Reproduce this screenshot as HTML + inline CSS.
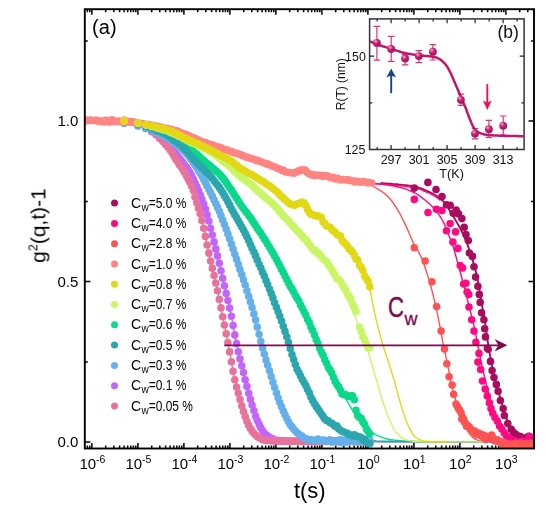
<!DOCTYPE html>
<html><head><meta charset="utf-8"><title>g2(q,t)-1 vs t</title>
<style>html,body{margin:0;padding:0;background:#fff}svg{display:block}text{font-family:"Liberation Sans",sans-serif}</style></head>
<body>
<svg width="545" height="522" viewBox="0 0 545 522" font-family="'Liberation Sans', sans-serif" fill="#000">
<defs><clipPath id="cp"><rect x="84.8" y="9.2" width="449.2" height="439.3"/></clipPath><radialGradient id="sph" cx="0.36" cy="0.3" r="0.72"><stop offset="0" stop-color="#f8cfe0"/><stop offset="0.16" stop-color="#e07aa8"/><stop offset="0.38" stop-color="#c82a78"/><stop offset="0.7" stop-color="#bb1668"/><stop offset="1" stop-color="#a20e5a"/></radialGradient></defs>
<rect width="545" height="522" fill="#fff"/>
<path d="M87.4 448.5v-3M87.4 9.2v3M89.8 448.5v-3M89.8 9.2v3M91.9 448.5v-5.6M91.9 9.2v5.6M105.7 448.5v-3M105.7 9.2v3M113.8 448.5v-3M113.8 9.2v3M119.6 448.5v-3M119.6 9.2v3M124.1 448.5v-3M124.1 9.2v3M127.7 448.5v-3M127.7 9.2v3M130.8 448.5v-3M130.8 9.2v3M133.4 448.5v-3M133.4 9.2v3M135.8 448.5v-3M135.8 9.2v3M137.9 448.5v-5.6M137.9 9.2v5.6M151.7 448.5v-3M151.7 9.2v3M159.8 448.5v-3M159.8 9.2v3M165.6 448.5v-3M165.6 9.2v3M170.1 448.5v-3M170.1 9.2v3M173.7 448.5v-3M173.7 9.2v3M176.8 448.5v-3M176.8 9.2v3M179.4 448.5v-3M179.4 9.2v3M181.8 448.5v-3M181.8 9.2v3M183.9 448.5v-5.6M183.9 9.2v5.6M197.7 448.5v-3M197.7 9.2v3M205.8 448.5v-3M205.8 9.2v3M211.6 448.5v-3M211.6 9.2v3M216.1 448.5v-3M216.1 9.2v3M219.7 448.5v-3M219.7 9.2v3M222.8 448.5v-3M222.8 9.2v3M225.4 448.5v-3M225.4 9.2v3M227.8 448.5v-3M227.8 9.2v3M229.9 448.5v-5.6M229.9 9.2v5.6M243.7 448.5v-3M243.7 9.2v3M251.8 448.5v-3M251.8 9.2v3M257.6 448.5v-3M257.6 9.2v3M262.1 448.5v-3M262.1 9.2v3M265.7 448.5v-3M265.7 9.2v3M268.8 448.5v-3M268.8 9.2v3M271.4 448.5v-3M271.4 9.2v3M273.8 448.5v-3M273.8 9.2v3M275.9 448.5v-5.6M275.9 9.2v5.6M289.7 448.5v-3M289.7 9.2v3M297.8 448.5v-3M297.8 9.2v3M303.6 448.5v-3M303.6 9.2v3M308.1 448.5v-3M308.1 9.2v3M311.7 448.5v-3M311.7 9.2v3M314.8 448.5v-3M314.8 9.2v3M317.4 448.5v-3M317.4 9.2v3M319.8 448.5v-3M319.8 9.2v3M321.9 448.5v-5.6M321.9 9.2v5.6M335.7 448.5v-3M335.7 9.2v3M343.8 448.5v-3M343.8 9.2v3M349.6 448.5v-3M349.6 9.2v3M354.1 448.5v-3M354.1 9.2v3M357.7 448.5v-3M357.7 9.2v3M360.8 448.5v-3M360.8 9.2v3M363.4 448.5v-3M363.4 9.2v3M365.8 448.5v-3M365.8 9.2v3M367.9 448.5v-5.6M367.9 9.2v5.6M381.7 448.5v-3M381.7 9.2v3M389.8 448.5v-3M389.8 9.2v3M395.6 448.5v-3M395.6 9.2v3M400.1 448.5v-3M400.1 9.2v3M403.7 448.5v-3M403.7 9.2v3M406.8 448.5v-3M406.8 9.2v3M409.4 448.5v-3M409.4 9.2v3M411.8 448.5v-3M411.8 9.2v3M413.9 448.5v-5.6M413.9 9.2v5.6M427.7 448.5v-3M427.7 9.2v3M435.8 448.5v-3M435.8 9.2v3M441.6 448.5v-3M441.6 9.2v3M446.1 448.5v-3M446.1 9.2v3M449.7 448.5v-3M449.7 9.2v3M452.8 448.5v-3M452.8 9.2v3M455.4 448.5v-3M455.4 9.2v3M457.8 448.5v-3M457.8 9.2v3M459.9 448.5v-5.6M459.9 9.2v5.6M473.7 448.5v-3M473.7 9.2v3M481.8 448.5v-3M481.8 9.2v3M487.6 448.5v-3M487.6 9.2v3M492.1 448.5v-3M492.1 9.2v3M495.7 448.5v-3M495.7 9.2v3M498.8 448.5v-3M498.8 9.2v3M501.4 448.5v-3M501.4 9.2v3M503.8 448.5v-3M503.8 9.2v3M505.9 448.5v-5.6M505.9 9.2v5.6M519.7 448.5v-3M519.7 9.2v3M527.8 448.5v-3M527.8 9.2v3M533.6 448.5v-3M533.6 9.2v3M84.8 442.1h5.6M534.1 442.1h-5.6M84.8 361.9h3M534.1 361.9h-3M84.8 281.6h5.6M534.1 281.6h-5.6M84.8 201.4h3M534.1 201.4h-3M84.8 121.1h5.6M534.1 121.1h-5.6M84.8 40.9h3M534.1 40.9h-3" stroke="#000" stroke-width="1.5" fill="none"/>
<g clip-path="url(#cp)">
<path d="M380.5 183 382 183.1 383.5 183.3 385 183.4 386.5 183.5 388 183.6 389.5 183.7 391 183.8 392.5 184 394 184.1 395.5 184.2 397 184.3 398.5 184.5 400 184.6 401.5 184.8 403 184.9 404.5 185.1 406 185.2 407.5 185.4 409 185.6 410.5 185.8 412 186.1 413.5 186.3 415 186.6 416.5 186.9 418 187.4 419.5 187.9 421 188.4 422.5 189 424 189.6 425.5 190.3 427 191 428.5 191.6 430 192.3 431.5 193 433 193.8 434.5 194.7 436 195.6 437.5 196.6 439 197.7 440.5 198.8 442 200.1 443.5 201.6 445 203.2 446.5 205.3 448 207.7 449.5 210.2 451 212.6 452.5 215 454 217.5 455.5 220 457 222.6 458.5 225.3 460 228 461.5 230.9 463 234 464.5 237.3 466 240.9 467.5 244.7 469 248.8 470.5 253.3 472 258 473.5 262.9 475 268.1 476.5 274.2 478 281.7 479.5 290 481 299 482.5 307.8 484 316.1 485.5 325.4 487 336.5 488.5 346.4 490 355.3 491.5 363.3 493 370.6 494.5 377.1 496 382.8 497.5 388.2 499 393.6 500.5 398.9 502 404 503.5 409.1 505 414 506.5 418.4 508 422.5 509.5 426 511 428.8 512.5 431.3 514 433.4 515.5 435 517 436.4 518.5 437.6 520 438.5 521.5 439.3 523 439.9 524.5 440.5 526 440.8 527.5 441 529 441.2 530.5 441.4 532 441.5 533.5 441.6" stroke="#a80c5e" stroke-width="1.9" fill="none" stroke-linejoin="round"/>
<path d="M373 183.5 374.5 183.6 376 183.7 377.5 183.9 379 184 380.5 184.2 382 184.4 383.5 184.5 385 184.7 386.5 184.9 388 185.1 389.5 185.3 391 185.6 392.5 185.8 394 186.1 395.5 186.4 397 186.7 398.5 187 400 187.4 401.5 187.8 403 188.2 404.5 188.7 406 189.2 407.5 189.8 409 190.4 410.5 191 412 191.6 413.5 192.3 415 193 416.5 193.8 418 194.7 419.5 195.8 421 196.9 422.5 198.1 424 199.2 425.5 200.4 427 201.7 428.5 202.9 430 204.3 431.5 205.7 433 207.3 434.5 208.9 436 210.7 437.5 212.7 439 214.8 440.5 217 442 219.5 443.5 222.4 445 225.8 446.5 229.6 448 233.4 449.5 237 451 240.6 452.5 244.7 454 249.5 455.5 254.8 457 260.2 458.5 265.6 460 271.2 461.5 276.8 463 282.5 464.5 288.3 466 294.1 467.5 300 469 306 470.5 311.8 472 317.6 473.5 323.6 475 330.2 476.5 337.9 478 346.3 479.5 354 481 361.1 482.5 368 484 374.6 485.5 381 487 386.9 488.5 392.6 490 398 491.5 403.2 493 408 494.5 412.4 496 416.3 497.5 419.8 499 423.3 500.5 426.7 502 429.5 503.5 431.8 505 433.8 506.5 435.5 508 436.9 509.5 438.1 511 439.1 512.5 439.7 514 440.2 515.5 440.6 517 440.9 518.5 441.1 520 441.3 521.5 441.4 523 441.5 524.5 441.6 526 441.6 527.5 441.7 529 441.7 530.5 441.8 532 441.8 533.5 441.8" stroke="#ff0a82" stroke-width="1.4" fill="none" stroke-linejoin="round"/><path d="M373 183.4 374.5 183.5 376 183.7 377.5 183.8 379 183.9 380.5 184.1 382 184.2 383.5 184.3 385 184.5 386.5 184.6 388 184.7 389.5 184.8 391 185 392.5 185.1 394 185.2 395.5 185.3 397 185.5 398.5 185.6 400 185.8 401.5 186 403 186.1 404.5 186.3 406 186.5 407.5 186.7 409 186.9 410.5 187.1 412 187.3 413.5 187.6 415 187.9 416.5 188.3 418 188.7 419.5 189.2 421 189.7 422.5 190.3 424 191 425.5 191.6 427 192.3 428.5 192.9 430 193.6 431.5 194.3 433 195.1 434.5 196 436 196.9 437.5 198 439 199.1 440.5 200.4" stroke="#ff0a82" stroke-width="1.4" fill="none" stroke-linejoin="round"/>
<path d="M373 186.3 374.5 187.1 376 188 377.5 188.9 379 189.8 380.5 190.7 382 191.7 383.5 192.8 385 193.9 386.5 195.2 388 196.6 389.5 198.2 391 200 392.5 202 394 204.2 395.5 206.5 397 208.9 398.5 211.3 400 213.9 401.5 216.7 403 219.7 404.5 222.9 406 226.1 407.5 229.4 409 232.8 410.5 236.4 412 240 413.5 243.5 415 246.6 416.5 249 418 251.2 419.5 253.6 421 256.6 422.5 260.2 424 264.2 425.5 268.7 427 273.4 428.5 278.3 430 283.3 431.5 288.8 433 294.7 434.5 300.9 436 307.4 437.5 314.2 439 321.6 440.5 329.5 442 337.5 443.5 345.1 445 352.4 446.5 359.6 448 366.8 449.5 374.2 451 381.4 452.5 388.1 454 394 455.5 399.5 457 404.7 458.5 409.7 460 414.7 461.5 419.2 463 422.6 464.5 425.3 466 427.8 467.5 430.3 469 432.8 470.5 435 472 436.6 473.5 437.9 475 439 476.5 439.7 478 440.4 479.5 441 481 441.4 482.5 441.5 484 441.6 485.5 441.7 487 441.8 488.5 441.9 490 442 491.5 442 493 442.1 494.5 442.1 496 442.1 497.5 442.2 499 442.2 500.5 442.2 502 442.2 503.5 442.2 505 442.3 506.5 442.3 508 442.3 509.5 442.3 511 442.3 512.5 442.3 514 442.3 515.5 442.3 517 442.3 518.5 442.4 520 442.4 521.5 442.4 523 442.4 524.5 442.4 526 442.4 527.5 442.4 529 442.4 530.5 442.4 532 442.4 533.5 442.4" stroke="#ff5252" stroke-width="1.4" fill="none" stroke-linejoin="round"/>
<path d="M124.2 122.6 125.7 122.7 127.2 122.9 128.7 123.2 130.2 123.5 131.7 123.8 133.2 124.1 134.7 124.5 136.2 124.9 137.7 125.3 139.2 125.7 140.7 126.2 142.2 126.8 143.7 127.4 145.2 128.1 146.7 128.8 148.2 129.6 149.7 130.5 151.2 131.5 152.7 132.5 154.2 133.5 155.7 134.5 157.2 135.5 158.7 136.6 160.2 137.8 161.7 138.9 163.2 140.2 164.7 141.4 166.2 142.8 167.7 144.2 169.2 145.6 170.7 147.2 172.2 148.9 173.7 150.8 175.2 152.8 176.7 154.8 178.2 156.8 179.7 158.6 181.2 160.4 182.7 162.3 184.2 164.2 185.7 166.2 187.2 168.3 188.7 170.4 190.2 172.8 191.7 175.4 193.2 178.6 194.7 182 196.2 185.5 197.7 188.9 199.2 192.3 200.7 196 202.2 199.8 203.7 203.8 205.2 208.4 206.7 213.4 208.2 218.7 209.7 224.6 211.2 230.6 212.7 236.5 214.2 242.5 215.7 248.5 217.2 254.6 218.7 261 220.2 267.4 221.7 274 223.2 280.6 224.7 287.1 226.2 293.4 227.7 299.6 229.2 306.1 230.7 313 232.2 320.7 233.7 328.9 235.2 337 236.7 344.3 238.2 351.2 239.7 357.6 241.2 363.6 242.7 369.4 244.2 375.4 245.7 381.6 247.2 387.5 248.7 393.2 250.2 398.5 251.7 403.7 253.2 408.6 254.7 413.3 256.2 417.7 257.7 421.4 259.2 424.7 260.7 427.6 262.2 430.1 263.7 432.1 265.2 433.9 266.7 435.4 268.2 436.6 269.7 437.7 271.2 438.6 272.7 439.2 274.2 439.7 275.7 440.1 277.2 440.5 278.7 440.7 280.2 440.8 281.7 440.8 283.2 440.9 284.7 440.9 286.2 441 287.7 441 289.2 441.1 290.7 441.1 292.2 441.1 293.7 441.2 295.2 441.2 296.7 441.2 298.2 441.2 299.7 441.2 301.2 441.2 302.7 441.2 304.2 441.2 305.7 441.2 307.2 441.2 308.7 441.2 310.2 441.2 311.7 441.2 313.2 441.2 314.7 441.2 316.2 441.2 317.7 441.2 319.2 441.2 320.7 441.2 322.2 441.2 323.7 441.2 325.2 441.2 326.7 441.2 328.2 441.2 329.7 441.2 331.2 441.2 332.7 441.2 334.2 441.2 335.7 441.2 337.2 441.2 338.7 441.2 340.2 441.2 341.7 441.2 343.2 441.2 344.7 441.2 346.2 441.2 347.7 441.2 349.2 441.2 350.7 441.2 352.2 441.2 353.7 441.2 355.2 441.2 356.7 441.2 358.2 441.2 359.7 441.2 361.2 441.2 362.7 441.2 364.2 441.2 365.7 441.2 367.2 441.2 368.7 441.2 370.2 441.4 371.7 441.6 373.2 441.6 374.7 441.6 376.2 441.6 377.7 441.6 379.2 441.6 380.7 441.6 382.2 441.7 383.7 441.7 385.2 441.7 386.7 441.7 388.2 441.7 389.7 441.7 391.2 441.7 392.7 441.7 394.2 441.7 395.7 441.7 397.2 441.7 398.7 441.7 400.2 441.7 401.7 441.7 403.2 441.7 404.7 441.7 406.2 441.7 407.7 441.8 409.2 441.8 410.7 441.8 412.2 441.8 413.7 441.8 415.2 441.8 416.7 441.8 418.2 441.8 419.7 441.8 421.2 441.8 422.7 441.8 424.2 441.8 425.7 441.8 427.2 441.8 428.7 441.8 430.2 441.8 431.7 441.8 433.2 441.8 434.7 441.8 436.2 441.8 437.7 441.8 439.2 441.8 440.7 441.8 442.2 441.8 443.7 441.8 445.2 441.8 446.7 441.8 448.2 441.8 449.7 441.9 451.2 441.9 452.7 441.9 454.2 441.9 455.7 441.9 457.2 441.9 458.7 441.9 460.2 441.9 461.7 441.9 463.2 441.9 464.7 441.9 466.2 441.9 467.7 441.9 469.2 441.9 470.7 441.9 472.2 441.9 473.7 441.9 475.2 441.9 476.7 441.9 478.2 441.9 479.7 441.9 481.2 441.9 482.7 441.9 484.2 441.9 485.7 441.9 487.2 441.9 488.7 441.9 490.2 441.9 491.7 441.9 493.2 441.9 494.7 441.9 496.2 441.9 497.7 441.9 499.2 441.9 500.7 441.9 502.2 441.9 503.7 441.9 505.2 441.9 506.7 441.9 508.2 441.9 509.7 441.9 511.2 441.9 512.7 441.9 514.2 441.9 515.7 441.9 517.2 441.9 518.7 441.9 520.2 441.9 521.7 441.9 523.2 441.9 524.7 441.9 526.2 441.9 527.7 441.9 529.2 441.9 530.7 441.9 532.2 441.9 533.7 441.9" stroke="#c266fb" stroke-width="1.4" fill="none" stroke-linejoin="round"/>
<path d="M124.2 122.4 125.7 122.6 127.2 122.8 128.7 123 130.2 123.3 131.7 123.6 133.2 123.9 134.7 124.3 136.2 124.7 137.7 125.1 139.2 125.5 140.7 126 142.2 126.5 143.7 127.1 145.2 127.8 146.7 128.5 148.2 129.2 149.7 130 151.2 131 152.7 132 154.2 133.2 155.7 134.4 157.2 135.8 158.7 137.2 160.2 138.7 161.7 140.2 163.2 141.8 164.7 143.5 166.2 145.2 167.7 147.1 169.2 149 170.7 151 172.2 153.1 173.7 155.4 175.2 157.9 176.7 160.4 178.2 162.8 179.7 165.1 181.2 167.3 182.7 169.6 184.2 171.9 185.7 174.5 187.2 177.1 188.7 180 190.2 183.1 191.7 186.4 193.2 190.4 194.7 195.5 196.2 201 197.7 205.8 199.2 210.4 200.7 215.4 202.2 221.5 203.7 228.5 205.2 235.6 206.7 242.9 208.2 250.1 209.7 256.9 211.2 263.4 212.7 269.8 214.2 276.1 215.7 282.5 217.2 289.4 218.7 296.5 220.2 304 221.7 311.5 223.2 319 224.7 326.4 226.2 333.8 227.7 341.6 229.2 349.7 230.7 358 232.2 366.4 233.7 374.5 235.2 381.3 236.7 387.3 238.2 392.9 239.7 398.5 241.2 403.9 242.7 409 244.2 413.6 245.7 418 247.2 421.9 248.7 425.2 250.2 428 251.7 430.5 253.2 432.5 254.7 434.2 256.2 435.7 257.7 436.9 259.2 437.8 260.7 438.7 262.2 439.4 263.7 440 265.2 440.3 266.7 440.5 268.2 440.6 269.7 440.8 271.2 440.9 272.7 441 274.2 441.1 275.7 441.1 277.2 441.2 278.7 441.2 280.2 441.2 281.7 441.2 283.2 441.2 284.7 441.2 286.2 441.2 287.7 441.2 289.2 441.2 290.7 441.2 292.2 441.2 293.7 441.2 295.2 441.2 296.7 441.2 298.2 441.2 299.7 441.2 301.2 441.2 302.7 441.2 304.2 441.2 305.7 441.2 307.2 441.2 308.7 441.2 310.2 441.2 311.7 441.2 313.2 441.2 314.7 441.2 316.2 441.2 317.7 441.2 319.2 441.2 320.7 441.2 322.2 441.2 323.7 441.2 325.2 441.2 326.7 441.2 328.2 441.2 329.7 441.2 331.2 441.2 332.7 441.2 334.2 441.2 335.7 441.2 337.2 441.2 338.7 441.2 340.2 441.2 341.7 441.2 343.2 441.2 344.7 441.2 346.2 441.2 347.7 441.2 349.2 441.2 350.7 441.2 352.2 441.2 353.7 441.2 355.2 441.2 356.7 441.2 358.2 441.2 359.7 441.2 361.2 441.2 362.7 441.2 364.2 441.2 365.7 441.2 367.2 441.2 368.7 441.2 370.2 441.4 371.7 441.6 373.2 441.6 374.7 441.6 376.2 441.6 377.7 441.6 379.2 441.6 380.7 441.6 382.2 441.7 383.7 441.7 385.2 441.7 386.7 441.7 388.2 441.7 389.7 441.7 391.2 441.7 392.7 441.7 394.2 441.7 395.7 441.7 397.2 441.7 398.7 441.7 400.2 441.7 401.7 441.7 403.2 441.7 404.7 441.7 406.2 441.7 407.7 441.8 409.2 441.8 410.7 441.8 412.2 441.8 413.7 441.8 415.2 441.8 416.7 441.8 418.2 441.8 419.7 441.8 421.2 441.8 422.7 441.8 424.2 441.8 425.7 441.8 427.2 441.8 428.7 441.8 430.2 441.8 431.7 441.8 433.2 441.8 434.7 441.8 436.2 441.8 437.7 441.8 439.2 441.8 440.7 441.8 442.2 441.8 443.7 441.8 445.2 441.8 446.7 441.8 448.2 441.8 449.7 441.9 451.2 441.9 452.7 441.9 454.2 441.9 455.7 441.9 457.2 441.9 458.7 441.9 460.2 441.9 461.7 441.9 463.2 441.9 464.7 441.9 466.2 441.9 467.7 441.9 469.2 441.9 470.7 441.9 472.2 441.9 473.7 441.9 475.2 441.9 476.7 441.9 478.2 441.9 479.7 441.9 481.2 441.9 482.7 441.9 484.2 441.9 485.7 441.9 487.2 441.9 488.7 441.9 490.2 441.9 491.7 441.9 493.2 441.9 494.7 441.9 496.2 441.9 497.7 441.9 499.2 441.9 500.7 441.9 502.2 441.9 503.7 441.9 505.2 441.9 506.7 441.9 508.2 441.9 509.7 441.9 511.2 441.9 512.7 441.9 514.2 441.9 515.7 441.9 517.2 441.9 518.7 441.9 520.2 441.9 521.7 441.9 523.2 441.9 524.7 441.9 526.2 441.9 527.7 441.9 529.2 441.9 530.7 441.9 532.2 441.9 533.7 441.9" stroke="#e8729c" stroke-width="1.4" fill="none" stroke-linejoin="round"/>
<path d="M124.2 123.5 125.7 123.7 127.2 123.9 128.7 124.2 130.2 124.5 131.7 124.8 133.2 125.1 134.7 125.4 136.2 125.7 137.7 126.1 139.2 126.5 140.7 126.9 142.2 127.4 143.7 127.9 145.2 128.4 146.7 128.9 148.2 129.4 149.7 129.9 151.2 130.4 152.7 131 154.2 131.6 155.7 132.2 157.2 132.8 158.7 133.5 160.2 134.2 161.7 135 163.2 135.7 164.7 136.5 166.2 137.3 167.7 138.2 169.2 139.1 170.7 140.1 172.2 141.1 173.7 142.1 175.2 143.2 176.7 144.4 178.2 145.6 179.7 146.9 181.2 148.3 182.7 149.7 184.2 151.1 185.7 152.7 187.2 154.3 188.7 156.1 190.2 158.1 191.7 160.1 193.2 162.3 194.7 164.5 196.2 166.8 197.7 169.1 199.2 171.5 200.7 174.1 202.2 176.7 203.7 179.5 205.2 182.3 206.7 185.1 208.2 188 209.7 191 211.2 194 212.7 197 214.2 200.2 215.7 203.4 217.2 206.7 218.7 210.1 220.2 213.7 221.7 217.4 223.2 221.2 224.7 225.2 226.2 229.3 227.7 233.4 229.2 237.6 230.7 242 232.2 246.4 233.7 250.8 235.2 255.3 236.7 259.7 238.2 264 239.7 268.4 241.2 272.8 242.7 277.3 244.2 281.9 245.7 286.5 247.2 291.3 248.7 296.2 250.2 301.2 251.7 306.3 253.2 311.5 254.7 316.9 256.2 322.6 257.7 328.6 259.2 334.8 260.7 340.8 262.2 346.7 263.7 352.3 265.2 357.4 266.7 362.2 268.2 366.8 269.7 371.5 271.2 376.4 272.7 381.3 274.2 386.2 275.7 390.8 277.2 395.2 278.7 399.5 280.2 403.5 281.7 407.3 283.2 410.9 284.7 414.3 286.2 417.4 287.7 420.2 289.2 422.8 290.7 425.2 292.2 427.3 293.7 429.2 295.2 430.9 296.7 432.4 298.2 433.8 299.7 435 301.2 436 302.7 437 304.2 437.9 305.7 438.6 307.2 439.1 308.7 439.6 310.2 440.1 311.7 440.4 313.2 440.6 314.7 440.3 316.2 439.7 317.7 439.2 319.2 439.5 320.7 440.2 322.2 440.6 323.7 440.7 325.2 440.9 326.7 440.9 328.2 441 329.7 441 331.2 441 332.7 441 334.2 440.9 335.7 440.9 337.2 440.8 338.7 440.8 340.2 440.7 341.7 440.6 343.2 440.6 344.7 440.6 346.2 440.6 347.7 440.7 349.2 440.7 350.7 440.8 352.2 440.9 353.7 441 355.2 441.1 356.7 441.1 358.2 441.2 359.7 441.2 361.2 441.2 362.7 441.2 364.2 441.1 365.7 441.1 367.2 441 368.7 441 370.2 441.2 371.7 441.6 373.2 441.6 374.7 441.6 376.2 441.6 377.7 441.6 379.2 441.6 380.7 441.6 382.2 441.7 383.7 441.7 385.2 441.7 386.7 441.7 388.2 441.7 389.7 441.7 391.2 441.7 392.7 441.7 394.2 441.7 395.7 441.7 397.2 441.7 398.7 441.7 400.2 441.7 401.7 441.7 403.2 441.7 404.7 441.7 406.2 441.7 407.7 441.8 409.2 441.8 410.7 441.8 412.2 441.8 413.7 441.8 415.2 441.8 416.7 441.8 418.2 441.8 419.7 441.8 421.2 441.8 422.7 441.8 424.2 441.8 425.7 441.8 427.2 441.8 428.7 441.8 430.2 441.8 431.7 441.8 433.2 441.8 434.7 441.8 436.2 441.8 437.7 441.8 439.2 441.8 440.7 441.8 442.2 441.8 443.7 441.8 445.2 441.8 446.7 441.8 448.2 441.9 449.7 441.9 451.2 441.9 452.7 441.9 454.2 441.9 455.7 441.9 457.2 441.9 458.7 441.9 460.2 441.9 461.7 441.9 463.2 441.9 464.7 441.9 466.2 441.9 467.7 441.9 469.2 441.9 470.7 441.9 472.2 441.9 473.7 441.9 475.2 441.9 476.7 441.9 478.2 441.9 479.7 441.9 481.2 441.9 482.7 441.9 484.2 441.9 485.7 441.9 487.2 441.9 488.7 441.9 490.2 441.9 491.7 441.9 493.2 441.9 494.7 441.9 496.2 441.9 497.7 441.9 499.2 441.9 500.7 441.9 502.2 441.9 503.7 441.9 505.2 441.9 506.7 441.9 508.2 441.9 509.7 441.9 511.2 441.9 512.7 441.9 514.2 441.9 515.7 441.9 517.2 441.9 518.7 441.9 520.2 441.9 521.7 441.9 523.2 441.9 524.7 441.9 526.2 441.9 527.7 441.9 529.2 441.9 530.7 441.9 532.2 441.9 533.7 441.9" stroke="#66b0e9" stroke-width="1.4" fill="none" stroke-linejoin="round"/>
<path d="M124.2 121.4 125.7 121.5 127.2 121.7 128.7 121.9 130.2 122.1 131.7 122.4 133.2 122.6 134.7 122.9 136.2 123.2 137.7 123.5 139.2 123.8 140.7 124.2 142.2 124.6 143.7 125.1 145.2 125.5 146.7 125.9 148.2 126.4 149.7 126.8 151.2 127.2 152.7 127.7 154.2 128.1 155.7 128.6 157.2 129.1 158.7 129.7 160.2 130.2 161.7 130.8 163.2 131.4 164.7 132 166.2 132.6 167.7 133.3 169.2 133.9 170.7 134.6 172.2 135.4 173.7 136.2 175.2 137 176.7 137.8 178.2 138.7 179.7 139.6 181.2 140.6 182.7 141.6 184.2 142.7 185.7 143.8 187.2 145 188.7 146.4 190.2 147.9 191.7 149.4 193.2 150.9 194.7 152.4 196.2 153.8 197.7 155.2 199.2 156.5 200.7 157.8 202.2 159.2 203.7 160.5 205.2 161.8 206.7 163 208.2 164.3 209.7 165.6 211.2 166.8 212.7 168.1 214.2 169.3 215.7 170.5 217.2 171.8 218.7 173.3 220.2 174.9 221.7 176.7 223.2 178.5 224.7 180.4 226.2 182.4 227.7 184.6 229.2 186.8 230.7 189.1 232.2 191.4 233.7 193.8 235.2 196.3 236.7 198.6 238.2 200.9 239.7 203.1 241.2 205.3 242.7 207.4 244.2 209.4 245.7 211.4 247.2 213.4 248.7 215.5 250.2 217.6 251.7 219.7 253.2 221.9 254.7 224.1 256.2 226.3 257.7 228.5 259.2 230.8 260.7 233.1 262.2 235.4 263.7 237.8 265.2 240.1 266.7 242.6 268.2 245 269.7 247.5 271.2 250 272.7 252.6 274.2 255.2 275.7 258 277.2 260.8 278.7 263.6 280.2 266.5 281.7 269.4 283.2 272.4 284.7 275.4 286.2 278.3 287.7 281.2 289.2 284.1 290.7 286.9 292.2 289.7 293.7 292.4 295.2 295 296.7 297.7 298.2 300.3 299.7 303.1 301.2 305.9 302.7 308.9 304.2 312 305.7 315.2 307.2 318.4 308.7 321.7 310.2 324.8 311.7 328 313.2 331.2 314.7 334.4 316.2 337.6 317.7 340.8 319.2 344 320.7 347.3 322.2 350.5 323.7 353.8 325.2 357 326.7 360.2 328.2 363.4 329.7 366.6 331.2 369.8 332.7 373 334.2 376.1 335.7 379.2 337.2 382.2 338.7 385.2 340.2 388.1 341.7 391.1 343.2 393.9 344.7 396.7 346.2 399.4 347.7 402.1 349.2 404.7 350.7 407.3 352.2 409.8 353.7 412.1 355.2 414.4 356.7 416.5 358.2 418.6 359.7 420.6 361.2 422.6 362.7 424.4 364.2 426.2 365.7 427.7 367.2 429.1 368.7 430.2 370.2 431.3 371.7 432.3 373.2 433.2 374.7 434.1 376.2 434.9 377.7 435.6 379.2 436.2 380.7 436.8 382.2 437.3 383.7 437.9 385.2 438.3 386.7 438.8 388.2 439.2 389.7 439.5 391.2 439.7 392.7 439.9 394.2 440.1 395.7 440.3 397.2 440.5 398.7 440.7 400.2 440.8 401.7 440.9 403.2 441 404.7 441.1 406.2 441.2 407.7 441.2 409.2 441.3 410.7 441.3 412.2 441.3 413.7 441.4 415.2 441.4 416.7 441.4 418.2 441.5 419.7 441.5 421.2 441.5 422.7 441.6 424.2 441.6 425.7 441.6 427.2 441.6 428.7 441.6 430.2 441.7 431.7 441.7 433.2 441.7 434.7 441.7 436.2 441.7 437.7 441.7 439.2 441.7" stroke="#0cd88c" stroke-width="1.4" fill="none" stroke-linejoin="round"/>
<path d="M124.2 121.8 125.7 122 127.2 122.1 128.7 122.4 130.2 122.6 131.7 122.9 133.2 123.2 134.7 123.5 136.2 123.8 137.7 124.1 139.2 124.5 140.7 124.9 142.2 125.3 143.7 125.8 145.2 126.3 146.7 126.8 148.2 127.3 149.7 127.8 151.2 128.4 152.7 128.9 154.2 129.5 155.7 130.1 157.2 130.6 158.7 131.2 160.2 131.8 161.7 132.4 163.2 133.1 164.7 133.9 166.2 134.8 167.7 135.7 169.2 136.7 170.7 137.7 172.2 138.7 173.7 139.7 175.2 140.8 176.7 141.9 178.2 143 179.7 144.2 181.2 145.6 182.7 147 184.2 148.5 185.7 150.1 187.2 151.7 188.7 153.4 190.2 155.2 191.7 157 193.2 158.7 194.7 160.4 196.2 162 197.7 163.4 199.2 164.9 200.7 166.3 202.2 167.8 203.7 169.3 205.2 170.8 206.7 172.4 208.2 173.9 209.7 175.6 211.2 177.3 212.7 179.1 214.2 181 215.7 182.9 217.2 184.8 218.7 186.7 220.2 188.8 221.7 191 223.2 193.4 224.7 195.9 226.2 198.7 227.7 201.5 229.2 204.3 230.7 207.2 232.2 210 233.7 212.7 235.2 215.4 236.7 218 238.2 220.6 239.7 223.2 241.2 225.9 242.7 228.6 244.2 231.4 245.7 234.4 247.2 237.5 248.7 240.7 250.2 243.9 251.7 247.3 253.2 250.6 254.7 254 256.2 257.4 257.7 260.8 259.2 264.3 260.7 267.8 262.2 271.3 263.7 274.9 265.2 278.5 266.7 282.2 268.2 286 269.7 289.8 271.2 293.6 272.7 297.5 274.2 301.4 275.7 305.3 277.2 309.3 278.7 313.3 280.2 317.4 281.7 321.7 283.2 326 284.7 330.4 286.2 335 287.7 339.7 289.2 344.9 290.7 350.4 292.2 355.2 293.7 359.6 295.2 363.7 296.7 367.5 298.2 371.1 299.7 374.4 301.2 377.4 302.7 380.2 304.2 382.9 305.7 385.7 307.2 388.7 308.7 391.9 310.2 395.2 311.7 398.4 313.2 401.3 314.7 404 316.2 406.5 317.7 408.9 319.2 411.1 320.7 413.3 322.2 415.5 323.7 417.5 325.2 419.2 326.7 420.6 328.2 421.6 329.7 422.5 331.2 423.5 332.7 424.6 334.2 425.7 335.7 426.8 337.2 427.8 338.7 428.9 340.2 429.9 341.7 431 343.2 432 344.7 432.8 346.2 433.6 347.7 434.3 349.2 435 350.7 435.4 352.2 435.7 353.7 435.9 355.2 436 356.7 436.1 358.2 436.4 359.7 437 361.2 438 362.7 438.6 364.2 439.1 365.7 439.4 367.2 439.7 368.7 440 370.2 440.2 371.7 440.4 373.2 440.6 374.7 440.8 376.2 441 377.7 441.1 379.2 441.2 380.7 441.2 382.2 441.2 383.7 441.2 385.2 441.3 386.7 441.3 388.2 441.3 389.7 441.3 391.2 441.3 392.7 441.3 394.2 441.4 395.7 441.4 397.2 441.4 398.7 441.4 400.2 441.4 401.7 441.4 403.2 441.4 404.7 441.5 406.2 441.5 407.7 441.5 409.2 441.5 410.7 441.5 412.2 441.5 413.7 441.5 415.2 441.5 416.7 441.6 418.2 441.6 419.7 441.6 421.2 441.6 422.7 441.6 424.2 441.6 425.7 441.6 427.2 441.6 428.7 441.6 430.2 441.6 431.7 441.7 433.2 441.7 434.7 441.7 436.2 441.7 437.7 441.7 439.2 441.7 440.7 441.7 442.2 441.7 443.7 441.7 445.2 441.7 446.7 441.7 448.2 441.7 449.7 441.7 451.2 441.8 452.7 441.8 454.2 441.8 455.7 441.8 457.2 441.8 458.7 441.8 460.2 441.8 461.7 441.8 463.2 441.8 464.7 441.8 466.2 441.8 467.7 441.8 469.2 441.8 470.7 441.8 472.2 441.8 473.7 441.8 475.2 441.8 476.7 441.8 478.2 441.8 479.7 441.8 481.2 441.9 482.7 441.9 484.2 441.9 485.7 441.9 487.2 441.9 488.7 441.9 490.2 441.9 491.7 441.9 493.2 441.9 494.7 441.9 496.2 441.9 497.7 441.9 499.2 441.9 500.7 441.9 502.2 441.9 503.7 441.9 505.2 441.9 506.7 441.9 508.2 441.9 509.7 441.9 511.2 441.9 512.7 441.9 514.2 441.9 515.7 441.9 517.2 441.9 518.7 441.9 520.2 441.9 521.7 441.9 523.2 441.9 524.7 441.9 526.2 441.9 527.7 441.9 529.2 441.9 530.7 441.9 532.2 441.9 533.7 441.9" stroke="#2ba6ad" stroke-width="1.4" fill="none" stroke-linejoin="round"/>
<path d="M124.2 121 125.7 121.2 127.2 121.4 128.7 121.6 130.2 121.8 131.7 122 133.2 122.3 134.7 122.6 136.2 122.8 137.7 123.1 139.2 123.4 140.7 123.8 142.2 124.2 143.7 124.6 145.2 124.9 146.7 125.3 148.2 125.7 149.7 126.1 151.2 126.4 152.7 126.8 154.2 127.2 155.7 127.6 157.2 128 158.7 128.4 160.2 128.8 161.7 129.3 163.2 129.7 164.7 130.2 166.2 130.7 167.7 131.2 169.2 131.7 170.7 132.2 172.2 132.8 173.7 133.5 175.2 134.2 176.7 134.9 178.2 135.6 179.7 136.4 181.2 137.2 182.7 137.9 184.2 138.7 185.7 139.5 187.2 140.2 188.7 140.9 190.2 141.7 191.7 142.4 193.2 143.2 194.7 143.9 196.2 144.6 197.7 145.4 199.2 146.1 200.7 146.9 202.2 147.6 203.7 148.4 205.2 149.1 206.7 149.8 208.2 150.6 209.7 151.4 211.2 152.3 212.7 153.3 214.2 154.3 215.7 155.4 217.2 156.5 218.7 157.7 220.2 158.8 221.7 160 223.2 161.2 224.7 162.3 226.2 163.6 227.7 164.8 229.2 166.1 230.7 167.4 232.2 168.9 233.7 170.3 235.2 171.9 236.7 173.4 238.2 174.8 239.7 176.1 241.2 177.4 242.7 178.5 244.2 179.6 245.7 180.7 247.2 181.8 248.7 182.8 250.2 184 251.7 185.2 253.2 186.4 254.7 187.8 256.2 189.1 257.7 190.5 259.2 191.9 260.7 193.3 262.2 194.7 263.7 196 265.2 197.3 266.7 198.6 268.2 199.9 269.7 201.2 271.2 202.5 272.7 203.9 274.2 205.3 275.7 206.9 277.2 208.5 278.7 210.3 280.2 212.1 281.7 213.9 283.2 215.6 284.7 217.3 286.2 218.9 287.7 220.5 289.2 222.1 290.7 223.6 292.2 225.2 293.7 226.8 295.2 228.4 296.7 229.9 298.2 231.5 299.7 233.2 301.2 234.8 302.7 236.5 304.2 238.3 305.7 240 307.2 241.9 308.7 243.8 310.2 245.8 311.7 247.6 313.2 249.2 314.7 250.4 316.2 251.6 317.7 252.8 319.2 254.2 320.7 255.8 322.2 257.6 323.7 259.4 325.2 261.2 326.7 263.1 328.2 265 329.7 267 331.2 269.1 332.7 271.3 334.2 273.7 335.7 276.3 337.2 278.9 338.7 281.6 340.2 284.4 341.7 287.3 343.2 290.3 344.7 293.4 346.2 296.6 347.7 299.8 349.2 303.1 350.7 306.5 352.2 310 353.7 313.5 355.2 317.1 356.7 320.7 358.2 324.4 359.7 328.2 361.2 332 362.7 335.8 364.2 340 365.7 344.4 367.2 349 368.7 353.7 370.2 358.6 371.7 363.7 373.2 368.9 374.7 374.1 376.2 379.3 377.7 384.4 379.2 389.6 380.7 394.7 382.2 399.7 383.7 404.3 385.2 408.7 386.7 413 388.2 417 389.7 420.7 391.2 423.8 392.7 426.8 394.2 429.5 395.7 431.9 397.2 433.7 398.7 435.1 400.2 436.4 401.7 437.6 403.2 438.6 404.7 439.3 406.2 439.9 407.7 440.3 409.2 440.6 410.7 440.9 412.2 441.1 413.7 441.3 415.2 441.5 416.7 441.6 418.2 441.6 419.7 441.6 421.2 441.6 422.7 441.7 424.2 441.7 425.7 441.7 427.2 441.7 428.7 441.7 430.2 441.8 431.7 441.8 433.2 441.8 434.7 441.8 436.2 441.8 437.7 441.8 439.2 441.8 440.7 441.8 442.2 441.9 443.7 441.9 445.2 441.9 446.7 441.9 448.2 441.9 449.7 441.9 451.2 441.9 452.7 441.9 454.2 441.9 455.7 441.9 457.2 441.9 458.7 441.9 460.2 441.9 461.7 441.9 463.2 441.9 464.7 441.9 466.2 441.9 467.7 441.9 469.2 441.9 470.7 441.9 472.2 441.9 473.7 441.9 475.2 441.9 476.7 441.9 478.2 441.9 479.7 441.9 481.2 441.9 482.7 441.9 484.2 441.9 485.7 441.9 487.2 441.9 488.7 441.9" stroke="#c9f664" stroke-width="1.4" fill="none" stroke-linejoin="round"/>
<path d="M155 126.6 156.5 126.9 158 127.2 159.5 127.6 161 128 162.5 128.4 164 128.8 165.5 129.3 167 129.8 168.5 130.3 170 130.8 171.5 131.3 173 132 174.5 132.6 176 133.3 177.5 134.1 179 134.9 180.5 135.7 182 136.5 183.5 137.3 185 138 186.5 138.7 188 139.4 189.5 140.1 191 140.8 192.5 141.5 194 142.2 195.5 142.9 197 143.6 198.5 144.3 200 145 201.5 145.7 203 146.4 204.5 147.1 206 147.8 207.5 148.6 209 149.3 210.5 150.1 212 150.8 213.5 151.6 215 152.4 216.5 153.3 218 154.1 219.5 154.9 221 155.7 222.5 156.5 224 157.2 225.5 157.9 227 158.6 228.5 159.3 230 160.2 231.5 161.2 233 162.4 234.5 163.6 236 164.9 237.5 166.1 239 167.3 240.5 168.3 242 169.3 243.5 170.2 245 171 246.5 171.9 248 172.7 249.5 173.5 251 174.4 252.5 175.3 254 176.2 255.5 177 257 177.9 258.5 178.8 260 179.7 261.5 180.6 263 181.6 264.5 182.6 266 183.6 267.5 184.6 269 185.6 270.5 186.7 272 187.8 273.5 188.9 275 190.1 276.5 191.4 278 192.8 279.5 194.3 281 195.8 282.5 197.3 284 198.8 285.5 200.2 287 201.5 288.5 202.7 290 203.8 291.5 204.7 293 205.2 294.5 205.1 296 204.8 297.5 204.2 299 203.4 300.5 202.9 302 202.5 303.5 202.4 305 204.6 306.5 207.2 308 209.7 309.5 211.7 311 213.3 312.5 214.5 314 215.3 315.5 215.8 317 216 318.5 215.6 320 216.3 321.5 218.4 323 221.3 324.5 223.1 326 224.6 327.5 225.9 329 227.1 330.5 228.2 332 229.4 333.5 230.7 335 232.1 336.5 233.6 338 235.2 339.5 236.8 341 238.4 342.5 240.1 344 241.9 345.5 243.7 347 245.5 348.5 247.4 350 249.4 351.5 251.4 353 253.5 354.5 255.7 356 258.1 357.5 260.5 359 263.3 360.5 266.4 362 269.6 363.5 272.7 365 275.5 366.5 278.4 368 282 369.5 287 371 294.7 372.5 302.5 374 309.9 375.5 316.9 377 323.2 378.5 329.1 380 334.8 381.5 340.3 383 345.5 384.5 350.2 386 354.5 387.5 358.9 389 363.5 390.5 368.3 392 373.2 393.5 378.2 395 383.3 396.5 388.7 398 394.4 399.5 400 401 405.4 402.5 410.1 404 414.6 405.5 418.9 407 422.8 408.5 426.2 410 429.1 411.5 431.9 413 434.3 414.5 436.2 416 437.5 417.5 438.5 419 439.3 420.5 440 422 440.6 423.5 441 425 441.2 426.5 441.3 428 441.4 429.5 441.4 431 441.5 432.5 441.6 434 441.6 435.5 441.7 437 441.7 438.5 441.8 440 441.8 441.5 441.8 443 441.9 444.5 441.9 446 441.9 447.5 441.9 449 441.9" stroke="#e2d814" stroke-width="1.4" fill="none" stroke-linejoin="round"/>
<path d="M414.3 188.1h0M427.9 182.4h0M436 189.5h0M442 196.5h0M446.5 204.8h0M450.2 205.2h0M453.2 213.2h0M456.1 210.1h0M458.5 213.9h0M461.9 218.6h0M464.2 227.3h0M466 234.6h0M468.3 240.5h0M469.4 253h0M472.4 256.4h0M474 266.8h0M475.6 277.1h0M477.9 286.3h0M479.3 294.4h0M480.2 302.4h0M481.6 312.8h0M483.9 319.7h0M484.7 328.8h0M485.5 336.9h0M487.4 348.4h0M488.2 349.3h0M490.5 361.4h0M492.1 370.6h0M494 377.5h0M496.3 384.4h0M498.1 391.3h0M500.4 400.5h0M503.2 408.6h0M504.3 415.5h0M507.8 423.5h0M511.2 429.3h0M513.5 432.5h0M515.8 434.2h0M518 436h0M520.4 436.5h0M523 439h0M526.1 437.5h0M528.8 436.2h0M531.9 440.6h0M534 439.5h0" stroke="#a80c5e" stroke-width="7.6" stroke-linecap="round" fill="none"/>
<path d="M414.3 199.4h0M428 212.5h0M436.4 209.2h0M442 210.5h0M450.1 223.5h0M446.5 230.7h0M455.6 231.9h0M452.9 242h0M457.9 248.4h0M460.2 265.6h0M462.5 267.9h0M463.7 284h0M466 283.3h0M467.1 292.1h0M468.7 294.4h0M469 307h0M471.7 319.7h0M474 331.1h0M475.9 342.3h0M479 353.4h0M477.9 362.1h0M480.6 369.5h0M482.5 381h0M485.2 389h0M487.3 396h0M489.4 402.8h0M491 408.5h0M492.8 413.2h0M495 417.5h0M497.4 421.2h0M499.6 426h0M502 429.3h0M504.3 433h0M506.6 436.1h0M509.5 438.4h0M512.4 439.8h0M516 441h0M520 441.6h0M524 441.2h0M529.6 436.6h0M533 441h0" stroke="#ff0a82" stroke-width="7.6" stroke-linecap="round" fill="none"/>
<path d="M414.3 247.7h0M425.1 261h0M432 281.7h0M436.6 306.6h0M441.1 331.1h0M444.5 349h0M446.8 363.7h0M449.1 376.8h0M452.1 385.1h0M453.7 394.3h0M456 404h0M458 407.6h0M459.5 409.7h0M461.8 418.9h0M464 421.6h0M466.4 424.7h0M468.6 427h0M471 429.3h0M473.4 431.4h0M475.6 433.9h0M478.5 434.6h0M481.3 436.1h0M483.6 438h0M485.9 439.6h0M488.8 437h0M491.7 435h0M493.2 438.4h0M494.5 440.7h0M497.5 441.2h0M500.9 441.9h0M457 405.7h0M458.4 408.6h0M459.7 410.6h0M461.1 413.1h0M462.4 417h0M463.8 419.3h0M465.1 422.8h0M466.5 426.2h0M467.8 425.5h0M469.2 426.8h0M470.5 429.5h0M471.9 430.6h0M473.2 431.4h0M474.6 431h0M475.9 433h0M477.3 434.7h0M478.6 433h0M480 435h0M481.3 434.2h0M482.7 435.7h0M484 435.4h0M485.4 437.5h0M486.7 436.4h0M488.1 438.4h0M489.4 438.5h0M490.8 438.5h0M492.1 436h0M493.5 439h0M494.8 440.3h0M496.2 441.1h0M497.5 439.7h0M498.9 441.5h0M500.2 441.4h0M501.6 442.1h0M503 445.1h0M504.6 443.7h0M506.2 444.3h0M507.8 445h0M509.4 443.8h0M511 444.2h0M512.6 444.4h0M514.2 444.4h0M515.8 443.3h0M517.4 444.4h0M519 445.4h0M520.6 443.1h0M522.2 445h0M523.8 444.4h0M525.4 443.8h0M527 445.9h0M528.6 444.9h0M530.2 443.3h0M531.8 444.4h0M533.4 444.8h0M535 444.1h0" stroke="#ff5252" stroke-width="7.6" stroke-linecap="round" fill="none"/>
<path d="M124.1 122.5h0M137.9 125.4h0M146 128.5h0M151.7 131.8h0M156.2 134.8h0M159.8 137.6h0M162.9 140h0M165.6 142.3h0M167.9 144.3h0M170.1 146.3h0M172 148.7h0M173.7 150.9h0M175.3 152.9h0M176.8 155h0M178.2 156.8h0M179.4 158.4h0M181.2 160.5h0M182.9 162.5h0M184.6 165h0M186.4 167h0M188.1 169.7h0M189.8 172.2h0M191.6 175.3h0M193.3 179h0M195 182.9h0M196.8 186.6h0M198.5 190.5h0M200.2 194.9h0M201.9 199h0M203.7 203.8h0M205.4 209.1h0M207.1 214.7h0M208.9 221h0M210.6 228.2h0M212.3 235.1h0M214.1 241.9h0M215.8 248.9h0M217.5 255.9h0M219.3 263.2h0M221 270.8h0M222.7 278.3h0M224.4 285.8h0M226.2 293.4h0M227.9 300.5h0M229.6 308.1h0M231.4 316.2h0M233.1 325.5h0M234.8 334.9h0M236.6 343.6h0M238.3 351.7h0M240 358.8h0M241.8 365.8h0M243.5 372.6h0M245.2 379.8h0M246.9 386.4h0M248.7 393.2h0M250.4 399.3h0M252.1 405.1h0M253.9 410.5h0M255.6 416h0M257.3 420.6h0M259.1 424.4h0M260.8 427.8h0M262.5 430.5h0M264.3 433h0M266 434.7h0M267.7 436h0M269.5 437.4h0M271.2 438.3h0M272.9 438.9h0M274.6 439.8h0M276.4 440.5h0M278.1 440.6h0M279.8 440.6h0M281.6 440.7h0M283.3 441h0M285 441h0M286.8 441h0M288.5 441.1h0M290.2 441.1h0M292 441.3h0M293.7 441.2h0M295.4 441.2h0M297.1 441h0M298.9 441.3h0M300.6 441.1h0M302.3 441.4h0M304.1 440.9h0M305.8 441.2h0M307.5 441.2h0M309.3 440.9h0M311 441.6h0M312.7 441.6h0M314.5 441.1h0M316.2 441.4h0M317.9 441.3h0M319.6 440.5h0M321.4 441.3h0M323.1 441.2h0M324.8 441.2h0M326.6 440.9h0M328.3 441.1h0M330 441.1h0M331.8 441.6h0M333.5 441.3h0M335.2 441.2h0M337 441.8h0M338.7 441h0M340.4 441.1h0M342.1 440.5h0M343.9 441.8h0M345.6 441.6h0M347.3 441.6h0M349.1 441.5h0M350.8 441.2h0M352.5 441.3h0M354.3 441.1h0M356 441.1h0M357.7 441.2h0M359.5 441.8h0M361.2 441.4h0M362.9 441.2h0M364.7 441h0M366.4 440.9h0M368.1 441.8h0M369.8 441.4h0" stroke="#c266fb" stroke-width="7.6" stroke-linecap="round" fill="none"/>
<path d="M124.1 122.5h0M137.9 125.1h0M146 128.2h0M151.7 131.5h0M156.2 134.8h0M159.8 138.4h0M162.9 141.5h0M165.6 144.5h0M167.9 147.2h0M170.1 150h0M172 152.7h0M173.7 155.5h0M175.3 158.2h0M176.8 160.4h0M178.2 162.6h0M179.4 164.8h0M181.2 167h0M182.9 169.8h0M184.6 172.6h0M186.4 175.8h0M188.1 178.9h0M189.8 182.3h0M191.6 186h0M193.3 190.6h0M195 196.9h0M196.8 202.8h0M198.5 208.2h0M200.2 213.8h0M201.9 220.4h0M203.7 228.3h0M205.4 236.4h0M207.1 245h0M208.9 253.1h0M210.6 261h0M212.3 268.3h0M214.1 275.5h0M215.8 283h0M217.5 290.8h0M219.3 299.4h0M221 307.9h0M222.7 316.7h0M224.4 325h0M226.2 333.8h0M227.9 342.5h0M229.6 351.9h0M231.4 361.7h0M233.1 371.3h0M234.8 379.7h0M236.6 387h0M238.3 393.2h0M240 399.6h0M241.8 405.9h0M243.5 411.5h0M245.2 416.6h0M246.9 421.3h0M248.7 425.2h0M250.4 428.5h0M252.1 431h0M253.9 433.3h0M255.6 435.1h0M257.3 436.5h0M259.1 437.8h0M260.8 438.6h0M262.5 439.7h0M264.3 440.2h0M266 440.4h0M267.7 440.5h0M269.5 440.7h0M271.2 440.7h0M272.9 440.9h0M274.6 441.1h0M276.4 440.9h0M278.1 441.3h0M279.8 441h0M281.6 441.3h0M283.3 441.1h0M285 441.3h0M286.8 441.2h0M288.5 441h0M290.2 441.4h0M292 441.4h0M293.7 441.2h0M295.4 441.2h0M297.1 441.2h0M298.9 441h0M300.6 441.4h0M302.3 441.1h0M304.1 441.2h0M305.8 441h0M307.5 441.1h0M309.3 440.9h0M311 441.5h0M312.7 441.2h0M314.5 441.4h0M316.2 441.2h0M317.9 441h0M319.6 441.1h0M321.4 441h0M323.1 441.2h0M324.8 441.1h0M326.6 441.1h0M328.3 440.8h0M330 440.9h0M331.8 441.8h0M333.5 441h0M335.2 440.8h0M337 441.3h0M338.7 441.7h0M340.4 440.6h0M342.1 441.1h0M343.9 441h0M345.6 440.5h0M347.3 441.5h0M349.1 441.2h0M350.8 441.2h0M352.5 440.9h0M354.3 441.4h0M356 441h0M357.7 441.1h0M359.5 440.8h0M361.2 440.7h0M362.9 441.7h0M364.7 441h0M366.4 441.3h0M368.1 441.2h0M369.8 441h0" stroke="#e8729c" stroke-width="7.6" stroke-linecap="round" fill="none"/>
<path d="M124.1 123.5h0M137.9 126.1h0M146 128.5h0M151.7 130.6h0M156.2 132.5h0M159.8 134h0M162.9 135.6h0M165.6 137h0M167.9 138.4h0M170.1 139.5h0M172 140.9h0M173.7 142h0M175.3 143.4h0M176.8 144.4h0M178.2 145.7h0M179.4 146.9h0M181.2 148.2h0M182.9 149.8h0M184.6 151.6h0M186.4 153.4h0M188.1 155.3h0M189.8 157.6h0M191.6 160.1h0M193.3 162.4h0M195 164.9h0M196.8 167.5h0M198.5 170.4h0M200.2 173.1h0M201.9 176.1h0M203.7 179.6h0M205.4 182.6h0M207.1 186.1h0M208.9 189.5h0M210.6 192.8h0M212.3 196.3h0M214.1 200.1h0M215.8 203.6h0M217.5 207.4h0M219.3 211.3h0M221 215.6h0M222.7 220.1h0M224.4 224.6h0M226.2 229.1h0M227.9 233.9h0M229.6 238.8h0M231.4 244h0M233.1 249h0M234.8 254.2h0M236.6 259.3h0M238.3 264.3h0M240 269.4h0M241.8 274.5h0M243.5 279.7h0M245.2 285.1h0M246.9 290.8h0M248.7 296.2h0M250.4 301.9h0M252.1 307.6h0M253.9 313.9h0M255.6 320h0M257.3 327h0M259.1 334.3h0M260.8 341.2h0M262.5 347.9h0M264.3 354.1h0M266 359.9h0M267.7 365.2h0M269.5 370.8h0M271.2 376.6h0M272.9 382h0M274.6 387.5h0M276.4 392.7h0M278.1 397.8h0M279.8 402.5h0M281.6 406.8h0M283.3 411.1h0M285 414.8h0M286.8 418.6h0M288.5 421.8h0M290.2 424.7h0M292 426.9h0M293.7 429.3h0M295.4 431.1h0M297.1 432.8h0M298.9 434.3h0M300.6 435.2h0M302.3 436.3h0M304.1 438.1h0M305.8 438.5h0M307.5 439.3h0M309.3 440.3h0M311 439.5h0M312.7 440.2h0M314.5 440.5h0M316.2 439.9h0M317.9 439h0M319.6 440.3h0M321.4 440.6h0M323.1 440h0M324.8 440.2h0M326.6 441.5h0M328.3 441.3h0M330 439.7h0M331.8 442h0M333.5 441.4h0M335.2 441.9h0M337 440.5h0M338.7 440.5h0M340.4 439.7h0M342.1 442.8h0M343.9 440.5h0M345.6 442h0M347.3 440.1h0M349.1 440.9h0M350.8 439.3h0M352.5 440.6h0M354.3 441.9h0M356 440h0M357.7 442.1h0M359.5 441.5h0M361.2 440.3h0M362.9 440.7h0M364.7 440.7h0M366.4 441.1h0M368.1 440.5h0M369.8 440.3h0" stroke="#66b0e9" stroke-width="7.6" stroke-linecap="round" fill="none"/>
<path d="M124.1 121.4h0M137.9 123.5h0M146 125.7h0M151.7 127.5h0M156.2 128.9h0M159.8 130.1h0M162.9 131.1h0M165.6 132.4h0M167.9 133.5h0M170.1 134.5h0M172 135.3h0M173.7 136h0M175.3 137.1h0M176.8 137.8h0M178.2 138.4h0M179.4 139.5h0M181.2 140.4h0M182.9 141.6h0M184.6 142.9h0M186.4 144.4h0M188.1 145.7h0M189.8 147.5h0M191.6 149.5h0M193.3 151.2h0M195 152.7h0M196.8 154.3h0M198.5 155.7h0M200.2 157.3h0M201.9 159h0M203.7 160.5h0M205.4 162h0M207.1 163.5h0M208.9 164.8h0M210.6 166.3h0M212.3 167.9h0M214.1 169.2h0M215.8 170.7h0M217.5 172.2h0M219.3 173.8h0M221 175.9h0M222.7 177.8h0M224.4 179.9h0M226.2 182.5h0M227.9 184.9h0M229.6 187.5h0M231.4 189.9h0M233.1 192.8h0M234.8 195.6h0M236.6 198.3h0M238.3 200.7h0M240 203.5h0M241.8 206.2h0M243.5 208.5h0M245.2 210.7h0M246.9 213h0M248.7 215.5h0M250.4 217.6h0M252.1 220.3h0M253.9 222.9h0M255.6 225.5h0M257.3 228.2h0M259.1 230.7h0M260.8 233.3h0M262.5 236h0M264.3 238.7h0M266 241.3h0M267.7 244.2h0M269.5 247.2h0M271.2 250.2h0M272.9 253h0M274.6 256h0M276.4 259.2h0M278.1 262.6h0M279.8 265.8h0M281.6 269.4h0M283.3 272.5h0M285 276h0M286.8 279.4h0M288.5 282.9h0M290.2 286.2h0M292 288.9h0M293.7 292.1h0M295.4 295.5h0M297.1 298.3h0M298.9 301.1h0M300.6 305.1h0M302.3 308.3h0M304.1 311.8h0M305.8 315h0M307.5 319.3h0M309.3 322.6h0M311 327.2h0M312.7 330.5h0M314.5 334.8h0M316.2 339.6h0M317.9 343.3h0M319.6 348.3h0M321.4 352.1h0M323.1 355.3h0M324.8 359.8h0M326.6 363.2h0M328.3 367.6h0M330 369.9h0M331.8 373.1h0M333.5 377.4h0M335.2 381.4h0M337 384.8h0M338.7 386.9h0M340.4 390.3h0M342.1 394h0M343.9 394.4h0M345.6 394.6h0M347.3 396.1h0M349.1 396.5h0M350.8 395.7h0M352.5 395.9h0M354.3 399.7h0M356 410.3h0M357.7 415.5h0M359.5 417.4h0M361.2 418.4h0M362.9 421.9h0M364.7 424.6h0M366.4 428.9h0M368.1 431.6h0M369.8 433.7h0" stroke="#0cd88c" stroke-width="7.6" stroke-linecap="round" fill="none"/>
<path d="M124.1 121.8h0M137.9 124h0M146 126.4h0M151.7 128.6h0M156.2 130.4h0M159.8 131.4h0M162.9 133h0M165.6 134.3h0M167.9 135.7h0M170.1 137.3h0M172 138.4h0M173.7 139.9h0M175.3 140.7h0M176.8 142h0M178.2 143h0M179.4 143.9h0M181.2 145.6h0M182.9 147.2h0M184.6 149.1h0M186.4 150.8h0M188.1 152.6h0M189.8 154.7h0M191.6 156.8h0M193.3 159h0M195 160.6h0M196.8 162.5h0M198.5 164h0M200.2 165.9h0M201.9 167.4h0M203.7 169.1h0M205.4 171h0M207.1 172.9h0M208.9 174.5h0M210.6 176.5h0M212.3 178.6h0M214.1 180.7h0M215.8 183.1h0M217.5 185.1h0M219.3 187.4h0M221 190h0M222.7 192.5h0M224.4 195.6h0M226.2 198.5h0M227.9 201.7h0M229.6 204.9h0M231.4 208.7h0M233.1 211.6h0M234.8 214.8h0M236.6 217.7h0M238.3 220.8h0M240 223.8h0M241.8 227.1h0M243.5 230h0M245.2 233.2h0M246.9 236.8h0M248.7 240.5h0M250.4 244.5h0M252.1 248.4h0M253.9 252h0M255.6 255.9h0M257.3 260h0M259.1 264.2h0M260.8 267.7h0M262.5 272.2h0M264.3 276.1h0M266 280.6h0M267.7 284.6h0M269.5 289.1h0M271.2 293.4h0M272.9 297.9h0M274.6 302.7h0M276.4 307.2h0M278.1 311.7h0M279.8 316.3h0M281.6 321.1h0M283.3 326.2h0M285 331.4h0M286.8 336.7h0M288.5 342.3h0M290.2 348.5h0M292 354.5h0M293.7 359.5h0M295.4 364.6h0M297.1 369.2h0M298.9 372.6h0M300.6 376h0M302.3 379.5h0M304.1 382.5h0M305.8 385.6h0M307.5 389.4h0M309.3 392.7h0M311 397.2h0M312.7 400.4h0M314.5 403.7h0M316.2 406.4h0M317.9 408.8h0M319.6 411.2h0M321.4 414.1h0M323.1 416.4h0M324.8 419h0M326.6 420.5h0M328.3 420.8h0M330 422.8h0M331.8 423h0M333.5 424.7h0M335.2 426.2h0M337 426h0M338.7 428.9h0M340.4 430.2h0M342.1 431.2h0M343.9 432h0M345.6 432.9h0M347.3 433.3h0M349.1 434.7h0M350.8 435h0M352.5 435.9h0M354.3 434.9h0M356 436.3h0M357.7 436.4h0M359.5 436.7h0M361.2 437.5h0M362.9 439.7h0M364.7 439.3h0M366.4 442.4h0M368.1 443.3h0M369.8 443.7h0" stroke="#2ba6ad" stroke-width="7.6" stroke-linecap="round" fill="none"/>
<path d="M80.5 121h0M81.8 121.1h0M83 120.2h0M84.2 120.7h0M85.5 120.9h0M86.8 120h0M88 120.7h0M89.2 120.4h0M90.5 120.1h0M91.8 120.2h0M93 120.5h0M94.2 120.5h0M95.5 120.2h0M96.8 120.3h0M98 121.2h0M99.2 120.7h0M100.5 121.1h0M101.8 121.4h0M103 121h0M104.2 122h0M105.5 120.2h0M106.8 121.2h0M108 120.6h0M109.2 121.9h0M110.5 121.9h0M111.8 119.7h0M113 120.3h0M114.2 121.4h0M115.5 121.5h0M116.8 121.5h0M118 121.1h0M119.2 121.4h0M120.5 121.6h0M121.8 121.3h0M123 122h0M124.2 120.1h0M125.5 121.9h0M126.8 121h0M128 122.3h0M129.2 121.7h0M130.5 121.5h0M131.8 122.4h0M133 121.8h0M134.2 121.9h0M135.5 122.3h0M136.8 122.8h0M138 123.1h0M139.2 123.4h0M140.5 123.3h0M141.8 123.8h0M143 123.8h0M144.2 124h0M145.5 124.3h0M146.8 124.6h0M148 124.6h0M149.2 124.8h0M150.5 125.1h0M151.8 125.4h0M153 125.4h0M154.2 126.1h0M155.5 126h0M156.8 126.4h0M158 126.4h0M159.2 126.9h0M160.5 127.1h0M161.8 127.2h0M163 128h0M164.2 127.9h0M165.5 128.4h0M166.8 128.5h0M168 128.5h0M169.2 128.9h0M170.5 129.4h0M171.8 129.6h0M173 130h0M174.2 130.3h0M175.5 130.4h0M176.8 131.2h0M178 131.3h0M179.2 132.2h0M180.5 132.5h0M181.8 133h0M183 133.6h0M184.2 134.2h0M185.5 134.3h0M186.8 134.7h0M188 135.4h0M189.2 135.7h0M190.5 136.5h0M191.8 137.5h0M193 137.5h0M194.2 138.4h0M195.5 138.6h0M196.8 139.4h0M198 139.8h0M199.2 140.4h0M200.5 141h0M201.8 141.7h0M203 141.9h0M204.2 142.3h0M205.5 142.5h0M206.8 143.3h0M208 143.6h0M209.2 144.2h0M210.5 144.5h0M211.8 145.2h0M213 144.9h0M214.2 145.7h0M215.5 146.3h0M216.8 146.5h0M218 146.8h0M219.2 147.4h0M220.5 147.6h0M221.8 148.3h0M223 149.2h0M224.2 149.4h0M225.5 149.4h0M226.8 149.8h0M228 150.4h0M229.2 151.1h0M230.5 151.2h0M231.8 151.6h0M233 152.4h0M234.2 152.8h0M235.5 153h0M236.8 153.3h0M238 153.7h0M239.2 154.3h0M240.5 154.4h0M241.8 155.5h0M243 155.6h0M244.2 156.3h0M245.5 157h0M246.8 157.3h0M248 157.3h0M249.2 158.1h0M250.5 158.6h0M251.8 158.6h0M253 159h0M254.2 159.6h0M255.5 159.7h0M256.8 160.8h0M258 160.4h0M259.2 161.1h0M260.5 161.7h0M261.8 162.1h0M263 162.7h0M264.2 163.1h0M265.5 163.5h0M266.8 164.2h0M268 164h0M269.2 164.9h0M270.5 165.2h0M271.8 165.9h0M273 166.4h0M274.2 166.7h0M275.5 167.3h0M276.8 168.1h0M278 168.5h0M279.2 168.8h0M280.5 169.8h0M281.8 170.4h0M283 170.1h0M284.2 170.9h0M285.5 171.9h0M286.8 172h0M288 172.2h0M289.2 172.6h0M290.5 172.8h0M291.8 173.1h0M293 172.9h0M294.2 173.2h0M295.5 172.4h0M296.8 171.9h0M298 171h0M299.2 170.9h0M300.5 170.1h0M301.8 170h0M303 170.2h0M304.2 169.8h0M305.5 170.3h0M306.8 171.9h0M308 173h0M309.2 173.8h0M310.5 174.4h0M311.8 175.1h0M313 174.6h0M314.2 175.7h0M315.5 175.3h0M316.8 175.1h0M318 175.3h0M319.2 175.3h0M320.5 175.7h0M321.8 175.5h0M323 176.4h0M324.2 175.8h0M325.5 175.4h0M326.8 176.2h0M328 175.9h0M329.2 177h0M330.5 177.7h0M331.8 177.7h0M333 177.2h0M334.2 177.7h0M335.5 178.9h0M336.8 178.5h0M338 178.6h0M339.2 179.2h0M340.5 180h0M341.8 179.7h0M343 179.5h0M344.2 179.8h0M345.5 180.1h0M346.8 179.8h0M348 179.8h0M349.2 180.4h0M350.5 180.2h0M351.8 180.7h0M353 181h0M354.2 182h0M355.5 180.9h0M356.8 181.4h0M358 181.5h0M359.2 181.9h0M360.5 182.3h0M361.8 181.8h0M363 181.8h0M364.2 181.6h0M365.5 182h0M366.8 182.7h0M368 182.7h0M369.2 182.4h0M370.5 182.7h0M371.8 183h0" stroke="#ff8482" stroke-width="7.5" stroke-linecap="round" fill="none"/>
<path d="M124.1 120.9h0M137.9 123.3h0M146 125.1h0M151.7 126.5h0M156.2 127.7h0M159.8 128.7h0M162.9 129.7h0M165.6 130.3h0M167.9 131.1h0M170.1 132h0M172 133h0M173.7 133.6h0M175.3 134.2h0M176.8 135h0M178.2 135.9h0M179.4 136.2h0M181.2 137.1h0M182.9 138.2h0M184.6 139h0M186.4 139.9h0M188.1 140.6h0M189.8 141.7h0M191.6 142.5h0M193.3 143.3h0M195 144.1h0M196.8 144.7h0M198.5 145.9h0M200.2 146.6h0M201.9 147.6h0M203.7 148.4h0M205.4 149.1h0M207.1 149.8h0M208.9 151h0M210.6 151.9h0M212.3 153h0M214.1 154.2h0M215.8 155.4h0M217.5 156.5h0M219.3 158.2h0M221 159.5h0M222.7 160.9h0M224.4 162.4h0M226.2 163.5h0M227.9 164.8h0M229.6 166.4h0M231.4 167.9h0M233.1 169.7h0M234.8 171.5h0M236.6 173h0M238.3 174.9h0M240 176.2h0M241.8 177.9h0M243.5 179.1h0M245.2 180.3h0M246.9 181.6h0M248.7 182.8h0M250.4 184.1h0M252.1 185.3h0M253.9 187h0M255.6 188.8h0M257.3 190.4h0M259.1 191.9h0M260.8 193.5h0M262.5 194.9h0M264.3 196.7h0M266 198h0M267.7 199.5h0M269.5 200.9h0M271.2 202.5h0M272.9 204h0M274.6 205.7h0M276.4 207.5h0M278.1 209.5h0M279.8 211.9h0M281.6 213.7h0M283.3 215.7h0M285 217.7h0M286.8 219.6h0M288.5 221.1h0M290.2 223.1h0M292 225.1h0M293.7 226.8h0M295.4 228.6h0M297.1 230.8h0M298.9 232.1h0M300.6 234.2h0M302.3 235.9h0M304.1 238.7h0M305.8 239.4h0M307.5 242h0M309.3 244.4h0M311 247.1h0M312.7 249h0M314.5 250.9h0M316.2 250.7h0M317.9 253.4h0M319.6 254.5h0M321.4 256.2h0M323.1 259h0M324.8 260.2h0M326.6 261.6h0M328.3 265h0M330 266.6h0M331.8 269.6h0M333.5 272.8h0M335.2 275.2h0M337 278.7h0M338.7 279.8h0M340.4 281.3h0M342.1 284.6h0M343.9 287.2h0M345.6 289.8h0M347.3 294.2h0M349.1 296.4h0M350.8 298.3h0M352.5 304.1h0M354.3 307.2h0M356 311.8h0M359.5 327.2h0M361.2 331.4h0M362.9 336.7h0M364.7 340.1h0M366.4 344h0M368.1 347.7h0M369.8 347.5h0" stroke="#c9f664" stroke-width="7.6" stroke-linecap="round" fill="none"/>
<path d="M124.1 120.8h0M137.9 122.7h0M146 124.6h0M151.7 125.7h0M156.2 127.1h0M159.8 127.8h0M162.9 128.5h0M165.6 129.2h0M167.9 130.1h0M170.1 130.8h0M172 131.4h0M173.7 132.3h0M175.3 132.9h0M176.8 133.8h0M178.2 134.4h0M179.4 135.1h0M181.2 136.2h0M182.9 137.3h0M184.6 137.7h0M186.4 138.6h0M188.1 139.4h0M189.8 140.4h0M191.6 141h0M193.3 141.8h0M195 142.7h0M196.8 143.4h0M198.5 144.2h0M200.2 145h0M201.9 145.7h0M203.7 146.6h0M205.4 147.5h0M207.1 148.4h0M208.9 149.2h0M210.6 149.9h0M212.3 151h0M214.1 152h0M215.8 152.9h0M217.5 153.8h0M219.3 154.7h0M221 155.8h0M222.7 156.5h0M224.4 157.2h0M226.2 158.1h0M227.9 159.2h0M229.6 160h0M231.4 161.3h0M233.1 162.4h0M234.8 164h0M236.6 165.3h0M238.3 166.7h0M240 168.3h0M241.8 169.2h0M243.5 170.1h0M245.2 171.2h0M246.9 172.2h0M248.7 173.2h0M250.4 174h0M252.1 174.9h0M253.9 176.1h0M255.6 177.1h0M257.3 178.1h0M259.1 179.3h0M260.8 180.2h0M262.5 181.4h0M264.3 182.3h0M266 183.7h0M267.7 185h0M269.5 186h0M271.2 187.2h0M272.9 188.5h0M274.6 190h0M276.4 191.2h0M278.1 192.9h0M279.8 194.7h0M281.6 196.5h0M283.3 198.1h0M285 199.8h0M286.8 201.2h0M288.5 202.8h0M290.2 203.9h0M292 204.7h0M293.7 205.2h0M295.4 205.1h0M297.1 204.1h0M298.9 203.4h0M300.6 203.1h0M302.3 202.1h0M304.1 203h0M305.8 205.6h0M307.5 209.4h0M309.3 212.4h0M311 214.2h0M312.7 214.5h0M314.5 215.8h0M316.2 216h0M317.9 215.8h0M319.6 216.8h0M321.4 217.4h0M323.1 222.1h0M324.8 223.4h0M326.6 226.1h0M328.3 226.7h0M330 227.4h0M331.8 229.4h0M333.5 231.2h0M335.2 232.3h0M337 234.5h0M338.7 235.5h0M340.4 236h0M342.1 240.5h0M343.9 242.4h0M345.6 244h0M347.3 246h0M349.1 249.1h0M350.8 250h0M352.5 252.2h0M354.3 255.2h0M356 259.1h0M357.7 259.7h0M359.5 265.3h0M361.2 267.3h0M362.9 270.6h0M364.7 276.2h0M366.4 278.6h0M368.1 281.4h0M369.8 286.9h0" stroke="#e2d814" stroke-width="7.6" stroke-linecap="round" fill="none"/>
<path d="M224.3 345.3H500" stroke="#7a0c50" stroke-width="1.8" fill="none"/><path d="M507.4 345.3L494.6 339.0L498.4 345.3L494.6 351.6Z" fill="#7a0c50"/><text transform="translate(388.1 316.7) scale(0.75 1)" font-size="29.5" fill="#7a0c50" stroke="#7a0c50" stroke-width="0.5">C</text><text x="404.6" y="324.9" font-size="18" fill="#7a0c50" stroke="#7a0c50" stroke-width="0.3">w</text>
</g>
<rect x="84.8" y="9.2" width="449.2" height="439.3" fill="none" stroke="#000" stroke-width="1.9"/>
<g opacity="0.999">
<circle cx="114.5" cy="203.1" r="3.5" fill="#a80c5e"/>
<text x="131" y="207.7" font-size="14">C</text><text x="141.6" y="210.6" font-size="10">w</text><text transform="translate(148.7 207.7) scale(0.855 1)" font-size="14">=5.0 %</text>
<circle cx="114.5" cy="223.4" r="3.5" fill="#ff0a82"/>
<text x="131" y="228" font-size="14">C</text><text x="141.6" y="230.9" font-size="10">w</text><text transform="translate(148.7 228) scale(0.855 1)" font-size="14">=4.0 %</text>
<circle cx="114.5" cy="243.7" r="3.5" fill="#ff5252"/>
<text x="131" y="248.3" font-size="14">C</text><text x="141.6" y="251.2" font-size="10">w</text><text transform="translate(148.7 248.3) scale(0.855 1)" font-size="14">=2.8 %</text>
<circle cx="114.5" cy="264" r="3.5" fill="#ff8482"/>
<text x="131" y="268.6" font-size="14">C</text><text x="141.6" y="271.5" font-size="10">w</text><text transform="translate(148.7 268.6) scale(0.855 1)" font-size="14">=1.0 %</text>
<circle cx="114.5" cy="284.3" r="3.5" fill="#e2d814"/>
<text x="131" y="288.9" font-size="14">C</text><text x="141.6" y="291.8" font-size="10">w</text><text transform="translate(148.7 288.9) scale(0.855 1)" font-size="14">=0.8 %</text>
<circle cx="114.5" cy="304.5" r="3.5" fill="#c9f664"/>
<text x="131" y="309.1" font-size="14">C</text><text x="141.6" y="312" font-size="10">w</text><text transform="translate(148.7 309.1) scale(0.855 1)" font-size="14">=0.7 %</text>
<circle cx="114.5" cy="324.8" r="3.5" fill="#0cd88c"/>
<text x="131" y="329.4" font-size="14">C</text><text x="141.6" y="332.3" font-size="10">w</text><text transform="translate(148.7 329.4) scale(0.855 1)" font-size="14">=0.6 %</text>
<circle cx="114.5" cy="345.1" r="3.5" fill="#2ba6ad"/>
<text x="131" y="349.7" font-size="14">C</text><text x="141.6" y="352.6" font-size="10">w</text><text transform="translate(148.7 349.7) scale(0.855 1)" font-size="14">=0.5 %</text>
<circle cx="114.5" cy="365.4" r="3.5" fill="#66b0e9"/>
<text x="131" y="370" font-size="14">C</text><text x="141.6" y="372.9" font-size="10">w</text><text transform="translate(148.7 370) scale(0.855 1)" font-size="14">=0.3 %</text>
<circle cx="114.5" cy="385.7" r="3.5" fill="#c266fb"/>
<text x="131" y="390.3" font-size="14">C</text><text x="141.6" y="393.2" font-size="10">w</text><text transform="translate(148.7 390.3) scale(0.855 1)" font-size="14">=0.1 %</text>
<circle cx="114.5" cy="406" r="3.5" fill="#e8729c"/>
<text x="131" y="410.6" font-size="14">C</text><text x="141.6" y="413.5" font-size="10">w</text><text transform="translate(148.7 410.6) scale(0.855 1)" font-size="14">=0.05 %</text>
<text x="78.4" y="447" font-size="15" text-anchor="end">0.0</text>
<text x="78.4" y="286.5" font-size="15" text-anchor="end">0.5</text>
<text x="78.4" y="126" font-size="15" text-anchor="end">1.0</text>
<text x="79.4" y="469.4" font-size="15">10<tspan dy="-6" font-size="10.5">-6</tspan></text>
<text x="125.4" y="469.4" font-size="15">10<tspan dy="-6" font-size="10.5">-5</tspan></text>
<text x="171.4" y="469.4" font-size="15">10<tspan dy="-6" font-size="10.5">-4</tspan></text>
<text x="217.4" y="469.4" font-size="15">10<tspan dy="-6" font-size="10.5">-3</tspan></text>
<text x="263.4" y="469.4" font-size="15">10<tspan dy="-6" font-size="10.5">-2</tspan></text>
<text x="309.4" y="469.4" font-size="15">10<tspan dy="-6" font-size="10.5">-1</tspan></text>
<text x="357.1" y="469.4" font-size="15">10<tspan dy="-6" font-size="10.5">0</tspan></text>
<text x="403.1" y="469.4" font-size="15">10<tspan dy="-6" font-size="10.5">1</tspan></text>
<text x="449.1" y="469.4" font-size="15">10<tspan dy="-6" font-size="10.5">2</tspan></text>
<text x="495.1" y="469.4" font-size="15">10<tspan dy="-6" font-size="10.5">3</tspan></text>
<text x="309.8" y="497.5" font-size="22" text-anchor="middle">t(s)</text>
<text transform="translate(45.4 262.9) rotate(-90)" font-size="21">g<tspan dy="-8.4" font-size="12.5">2</tspan><tspan dy="8.4">(q,t)-1</tspan></text>
<text x="92.1" y="34.4" font-size="20">(a)</text>
<rect x="369.6" y="18.9" width="154.5" height="130.6" fill="#fff"/>
<path d="M377.1 149.5v-2.6M377.1 18.9v2.6M391.1 149.5v-4.4M391.1 18.9v4.4M405.1 149.5v-2.6M405.1 18.9v2.6M419.1 149.5v-4.4M419.1 18.9v4.4M433.1 149.5v-2.6M433.1 18.9v2.6M447.1 149.5v-4.4M447.1 18.9v4.4M461.1 149.5v-2.6M461.1 18.9v2.6M475.1 149.5v-4.4M475.1 18.9v4.4M489.1 149.5v-2.6M489.1 18.9v2.6M503.1 149.5v-4.4M503.1 18.9v4.4M517.1 149.5v-2.6M517.1 18.9v2.6M369.6 56.1h4.4M524.1 56.1h-4.4M369.6 102.8h2.6M524.1 102.8h-2.6" stroke="#222" stroke-width="1.2" fill="none"/>
<rect x="369.6" y="18.9" width="154.5" height="130.6" fill="none" stroke="#333" stroke-width="1.5"/>
<path d="M376.9 26.4V60.1M373.6 26.4h6.6M373.6 60.1h6.6M391.2 36.3V61.4M387.9 36.3h6.6M387.9 61.4h6.6M405.1 54.3V64.9M401.8 54.3h6.6M401.8 64.9h6.6M418.8 50.6V62.7M415.5 50.6h6.6M415.5 62.7h6.6M432.9 44.6V60M429.6 44.6h6.6M429.6 60h6.6M460.9 94.1V105.4M457.6 94.1h6.6M457.6 105.4h6.6M475 128.5V138.9M471.7 128.5h6.6M471.7 138.9h6.6M488.9 120.4V137.3M485.6 120.4h6.6M485.6 137.3h6.6M503.2 116V135.1M499.9 116h6.6M499.9 135.1h6.6" stroke="#d6367c" stroke-width="1.2" fill="none"/>
<path d="M369.6 41.3 370.6 41.7 371.6 42.1 372.6 42.5 373.6 42.9 374.6 43.3 375.6 43.7 376.6 44.1 377.6 44.4 378.6 44.8 379.6 45.2 380.6 45.5 381.6 45.8 382.6 46.2 383.6 46.5 384.6 46.8 385.6 47.1 386.6 47.4 387.6 47.8 388.6 48.1 389.6 48.4 390.6 48.7 391.6 49 392.6 49.3 393.6 49.6 394.6 49.9 395.6 50.2 396.6 50.6 397.6 50.9 398.6 51.2 399.6 51.5 400.6 51.9 401.6 52.2 402.6 52.4 403.6 52.7 404.6 53 405.6 53.2 406.6 53.4 407.6 53.6 408.6 53.8 409.6 54 410.6 54.1 411.6 54.3 412.6 54.4 413.6 54.6 414.6 54.7 415.6 54.9 416.6 55 417.6 55.1 418.6 55.3 419.6 55.4 420.6 55.5 421.6 55.6 422.6 55.7 423.6 55.8 424.6 55.9 425.6 56 426.6 56.1 427.6 56.2 428.6 56.2 429.6 56.3 430.6 56.5 431.6 56.6 432.6 56.7 433.6 56.9 434.6 57.1 435.6 57.3 436.6 57.6 437.6 58 438.6 58.5 439.6 59.1 440.6 59.8 441.6 60.6 442.6 61.4 443.6 62.3 444.6 63.4 445.6 64.5 446.6 65.9 447.6 67.4 448.6 69.1 449.6 71 450.6 73 451.6 75.2 452.6 77.5 453.6 79.8 454.6 82.2 455.6 84.5 456.6 86.8 457.6 89.1 458.6 91.4 459.6 93.7 460.6 96.2 461.6 98.6 462.6 101 463.6 103.2 464.6 105.5 465.6 107.8 466.6 110.5 467.6 113.3 468.6 116 469.6 118.6 470.6 121 471.6 123.4 472.6 125.6 473.6 127.4 474.6 128.8 475.6 130.1 476.6 131 477.6 131.7 478.6 132.3 479.6 132.8 480.6 133.2 481.6 133.6 482.6 133.9 483.6 134.2 484.6 134.4 485.6 134.6 486.6 134.7 487.6 134.9 488.6 135 489.6 135.1 490.6 135.1 491.6 135.2 492.6 135.3 493.6 135.4 494.6 135.4 495.6 135.5 496.6 135.6 497.6 135.6 498.6 135.7 499.6 135.7 500.6 135.8 501.6 135.8 502.6 135.8 503.6 135.8 504.6 135.9 505.6 135.9 506.6 135.9 507.6 136 508.6 136 509.6 136 510.6 136 511.6 136.1 512.6 136.1 513.6 136.1 514.6 136.1 515.6 136.1 516.6 136.1 517.6 136.2 518.6 136.2 519.6 136.2 520.6 136.2 521.6 136.2 522.6 136.2 523.6 136.2" stroke="#bf176a" stroke-width="2.5" fill="none" stroke-linejoin="round"/>
<circle cx="376.9" cy="42.9" r="3.9" fill="url(#sph)"/>
<circle cx="391.2" cy="49" r="3.9" fill="url(#sph)"/>
<circle cx="405.1" cy="58.5" r="3.9" fill="url(#sph)"/>
<circle cx="418.8" cy="56.1" r="3.9" fill="url(#sph)"/>
<circle cx="432.9" cy="51.7" r="3.9" fill="url(#sph)"/>
<circle cx="460.9" cy="99.8" r="3.9" fill="url(#sph)"/>
<circle cx="475" cy="133.6" r="3.9" fill="url(#sph)"/>
<circle cx="488.9" cy="129.2" r="3.9" fill="url(#sph)"/>
<circle cx="503.2" cy="125.7" r="3.9" fill="url(#sph)"/>
<path d="M391.2 93.2V74" stroke="#15447f" stroke-width="1.9" fill="none"/><path d="M391.2 68.6L386.4 77.6L391.2 75.4L396 77.6Z" fill="#15447f"/>
<path d="M487.3 84.2V104" stroke="#ec1450" stroke-width="1.9" fill="none"/><path d="M487.3 110L482.9 100.6L487.3 102.8L491.7 100.6Z" fill="#ec1450"/>
<text x="391.1" y="164.3" font-size="12.5" text-anchor="middle" fill="#111">297</text>
<text x="419.1" y="164.3" font-size="12.5" text-anchor="middle" fill="#111">301</text>
<text x="447.1" y="164.3" font-size="12.5" text-anchor="middle" fill="#111">305</text>
<text x="475.1" y="164.3" font-size="12.5" text-anchor="middle" fill="#111">309</text>
<text x="503.1" y="164.3" font-size="12.5" text-anchor="middle" fill="#111">313</text>
<text x="365.8" y="60.5" font-size="12.4" text-anchor="end" fill="#111">150</text>
<text x="365.4" y="154.3" font-size="12.4" text-anchor="end" fill="#111">125</text>
<text x="451.6" y="177.9" font-size="12.6" text-anchor="middle" fill="#111">T(K)</text>
<text transform="translate(345.3 84.3) rotate(-90)" font-size="12" text-anchor="middle" fill="#111">R(T) (nm)</text>
<text x="497.4" y="37.6" font-size="17.5" fill="#111">(b)</text>
</g>
</svg>
</body></html>
